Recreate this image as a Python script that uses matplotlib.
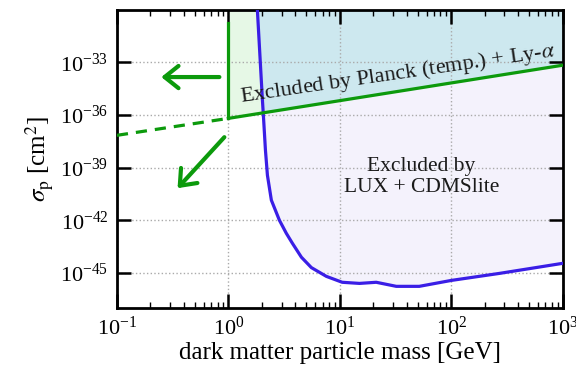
import numpy as np
import matplotlib
matplotlib.use('Agg')
import matplotlib.pyplot as plt

plt.rcParams['font.family'] = 'serif'
plt.rcParams['font.serif'] = ['Liberation Serif', 'DejaVu Serif']
plt.rcParams['mathtext.fontset'] = 'stix'

# LUX + CDMSlite exclusion limit
lux_mass = [1.82, 2.02, 2.06, 2.15, 2.24, 2.43, 2.87, 3.31, 3.75, 4.52, 5.55, 7.57,
            10.5, 15.0, 21.2, 32.1, 51.6, 100, 270, 1000]
lux_sigma = [1e-30, 7.2e-36, 1e-36, 1e-38, 3.7e-40, 1.4e-41, 1e-42, 1.8e-43, 4.9e-44,
             7.8e-45, 2.0e-45, 6.3e-46, 2.9e-46, 2.5e-46, 2.9e-46, 1.7e-46, 1.7e-46,
             3.7e-46, 9.3e-46, 3.5e-45]

# Planck (temp.) + Ly-alpha bound
planck_mass = [1, 1000]
planck_sigma = [6.5e-37, 7e-34]
edge_mass = [1, 1]
edge_sigma = [1.8e-31, 6.5e-37]
ext_mass = [0.1, 1]
ext_sigma = [7e-38, 6.5e-37]

xticks = [1e-1, 1e0, 1e1, 1e2, 1e3]
yticks = [1e-45, 1e-42, 1e-39, 1e-36, 1e-33]

green = '#0c9a0c'
blue = '#3a1ee6'
top = 1e-30

fig = plt.figure(figsize=(5.76, 3.67), dpi=100)
ax = fig.add_axes([0.203, 0.161, 0.774, 0.812])
ax.set_xscale('log')
ax.set_yscale('log')

# filled regions
ax.fill_between(lux_mass, lux_sigma, top, color='#f4f2fc', lw=0)
ax.fill_between(planck_mass, planck_sigma, top, color='#e6f8e6', lw=0)
lm = np.log10(lux_mass)
pl_at = 10 ** np.interp(lm, np.log10(planck_mass), np.log10(planck_sigma))
ax.fill_between(lux_mass, np.maximum(lux_sigma, pl_at), top, color='#cde8ef', lw=0)

# lines
ax.plot(lux_mass, lux_sigma, color=blue, lw=2.3, zorder=3, solid_joinstyle='round')
ax.plot(planck_mass, planck_sigma, color=green, lw=2.3, zorder=4)
ax.plot(edge_mass, edge_sigma, color=green, lw=2.3, zorder=4)
ax.plot(ext_mass, ext_sigma, color=green, lw=2.3, ls=(0, (3.5, 2.5)), zorder=4)

# arrows
arrow = dict(arrowstyle='->, head_length=0.5, head_width=0.4', lw=3, color=green,
             mutation_scale=20, shrinkA=0, shrinkB=0)
ax.annotate('', xy=(0.25, 10 ** -33.83), xytext=(0.83, 10 ** -33.83), arrowprops=arrow)
ax.annotate('', xy=(0.35, 10 ** -40.17), xytext=(0.92, 10 ** -37.26), arrowprops=arrow)

# labels in the plot
ax.text(33, 2.2e-34, r'Excluded by Planck (temp.) + Ly-$\alpha$', fontsize=16,
        rotation=8.3, rotation_mode='anchor', ha='center', va='center', color='#1a1a1a')
ax.text(54, 2.9e-40, 'Excluded by\nLUX + CDMSlite', fontsize=15.5, ha='center',
        va='center', linespacing=1.1, color='#1a1a1a')

ax.set_xlim(0.1, 1000)
ax.set_ylim(1e-47, top)
ax.set_xticks(xticks)
ax.set_yticks(yticks)
ax.yaxis.set_minor_locator(matplotlib.ticker.NullLocator())
ax.tick_params(which='major', direction='in', length=10, width=1.8, top=True, right=True,
               labelsize=16, pad=6)
ax.tick_params(which='minor', direction='in', length=4, width=1, top=True, right=True)
ax.grid(True, which='major', ls=':', color='#aaaaaa', lw=1)
for s in ax.spines.values():
    s.set_linewidth(2)

ax.set_xlabel('dark matter particle mass [GeV]', fontsize=18, labelpad=2)
ax.set_ylabel(r'$\sigma_{\rm p}$ [cm$^2$]', fontsize=18, labelpad=4)

plt.savefig('out.png', dpi=100)
